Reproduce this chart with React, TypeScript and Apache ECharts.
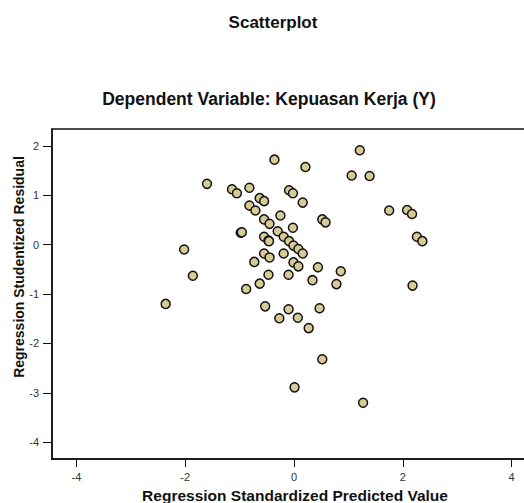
import React, { useEffect, useRef } from "react";
import * as echarts from "echarts";

const predictedValues: number[] = [
  -1.60, -1.14, -1.05, -0.82, -0.63, -0.55, -0.82, -0.71, -0.36, 0.21,
  -0.09, -0.02, 0.16, 1.21, 1.06, 1.39, 1.75, 2.08, 2.17, 2.26,
  2.36, 2.18, -0.55, -0.45, -0.25, -0.02, 0.52, 0.58, -0.98, -0.96,
  -2.02, -1.86, -2.36, -0.55, -0.47, -0.46, -0.30, -0.19, -0.09, -0.01,
  0.08, 0.16, -0.55, -0.45, -0.19, -0.73, -0.01, 0.08, 0.44, 0.86,
  -0.47, -0.10, 0.34, 0.78, -0.63, -0.88, -0.53, -0.10, 0.47, -0.27,
  0.07, 0.27, 0.52, 0.01, 1.27,
];
const studentizedResiduals: number[] = [
  1.23, 1.12, 1.04, 1.15, 0.94, 0.88, 0.79, 0.69, 1.72, 1.57,
  1.10, 1.04, 0.85, 1.91, 1.40, 1.39, 0.69, 0.70, 0.62, 0.16,
  0.07, -0.83, 0.51, 0.42, 0.59, 0.34, 0.51, 0.45, 0.24, 0.25,
  -0.10, -0.63, -1.20, 0.16, 0.08, 0.07, 0.27, 0.16, 0.07, -0.02,
  -0.09, -0.18, -0.18, -0.26, -0.18, -0.35, -0.36, -0.44, -0.46, -0.54,
  -0.61, -0.61, -0.72, -0.80, -0.79, -0.90, -1.25, -1.31, -1.29, -1.49,
  -1.48, -1.69, -2.32, -2.89, -3.20,
];
const xTicks: number[] = [-4, -2, 0, 2, 4];
const yTicks: number[] = [-4, -3, -2, -1, 0, 1, 2];

const mainTitle = "Scatterplot";
const subTitle = "Dependent Variable: Kepuasan Kerja (Y)";
const xName = "Regression Standardized Predicted Value";
const yName = "Regression Studentized Residual";

export default function App() {
  const ref = useRef<HTMLDivElement>(null);
  useEffect(() => {
    document.body.style.margin = "0";
    if (!ref.current) return;
    const chart = echarts.init(ref.current, null, { renderer: "svg" });
    const points = predictedValues.map((x, i) => [x, studentizedResiduals[i]]);
    const font = "'Liberation Sans', Arial, sans-serif";
    chart.setOption({
      animation: false,
      backgroundColor: "#ffffff",
      grid: {
        left: 52,
        top: 129,
        width: 484,
        height: 330,
        show: true,
        borderColor: "#111",
        borderWidth: 1.5,
        containLabel: false,
      },
      xAxis: {
        type: "value",
        min: -4.45,
        max: 4.45,
        splitLine: { show: false },
        axisLine: { show: true, onZero: false, lineStyle: { color: "#111", width: 1.5 } },
        axisTick: { show: true, length: 8, customValues: xTicks, lineStyle: { color: "#111" } },
        axisLabel: {
          customValues: xTicks,
          color: "#333",
          fontSize: 11,
          fontFamily: font,
          margin: 12,
        },
      },
      yAxis: {
        type: "value",
        min: -4.34,
        max: 2.34,
        splitLine: { show: false },
        axisLine: { show: true, onZero: false, lineStyle: { color: "#111", width: 1.5 } },
        axisTick: { show: true, length: 9, customValues: yTicks, lineStyle: { color: "#111" } },
        axisLabel: {
          customValues: yTicks,
          color: "#333",
          fontSize: 11,
          fontFamily: font,
          margin: 13,
        },
      },
      graphic: [
        {
          type: "text",
          x: 273,
          y: 22,
          style: { text: mainTitle, font: `bold 17px ${font}`, fill: "#111", textAlign: "center", textVerticalAlign: "middle" },
        },
        {
          type: "text",
          x: 269,
          y: 99,
          style: { text: subTitle, font: `bold 17.5px ${font}`, fill: "#111", textAlign: "center", textVerticalAlign: "middle" },
        },
        {
          type: "text",
          x: 295,
          y: 495,
          style: { text: xName, font: `bold 15.5px ${font}`, fill: "#111", textAlign: "center", textVerticalAlign: "middle" },
        },
        {
          type: "text",
          x: 19,
          y: 267,
          rotation: Math.PI / 2,
          style: { text: yName, font: `bold 14px ${font}`, fill: "#111", textAlign: "center", textVerticalAlign: "middle" },
        },
      ],
      series: [
        {
          type: "scatter",
          data: points,
          symbol: "circle",
          symbolSize: 9,
          itemStyle: { color: "#d6cb94", borderColor: "#111", borderWidth: 1.5, opacity: 1 },
          emphasis: { disabled: true },
        },
      ],
    });
    return () => chart.dispose();
  }, []);
  return (
    <div style={{ width: 524, height: 503, overflow: "hidden", position: "relative" }}>
      <div ref={ref} style={{ width: 545, height: 503 }} />
    </div>
  );
}
